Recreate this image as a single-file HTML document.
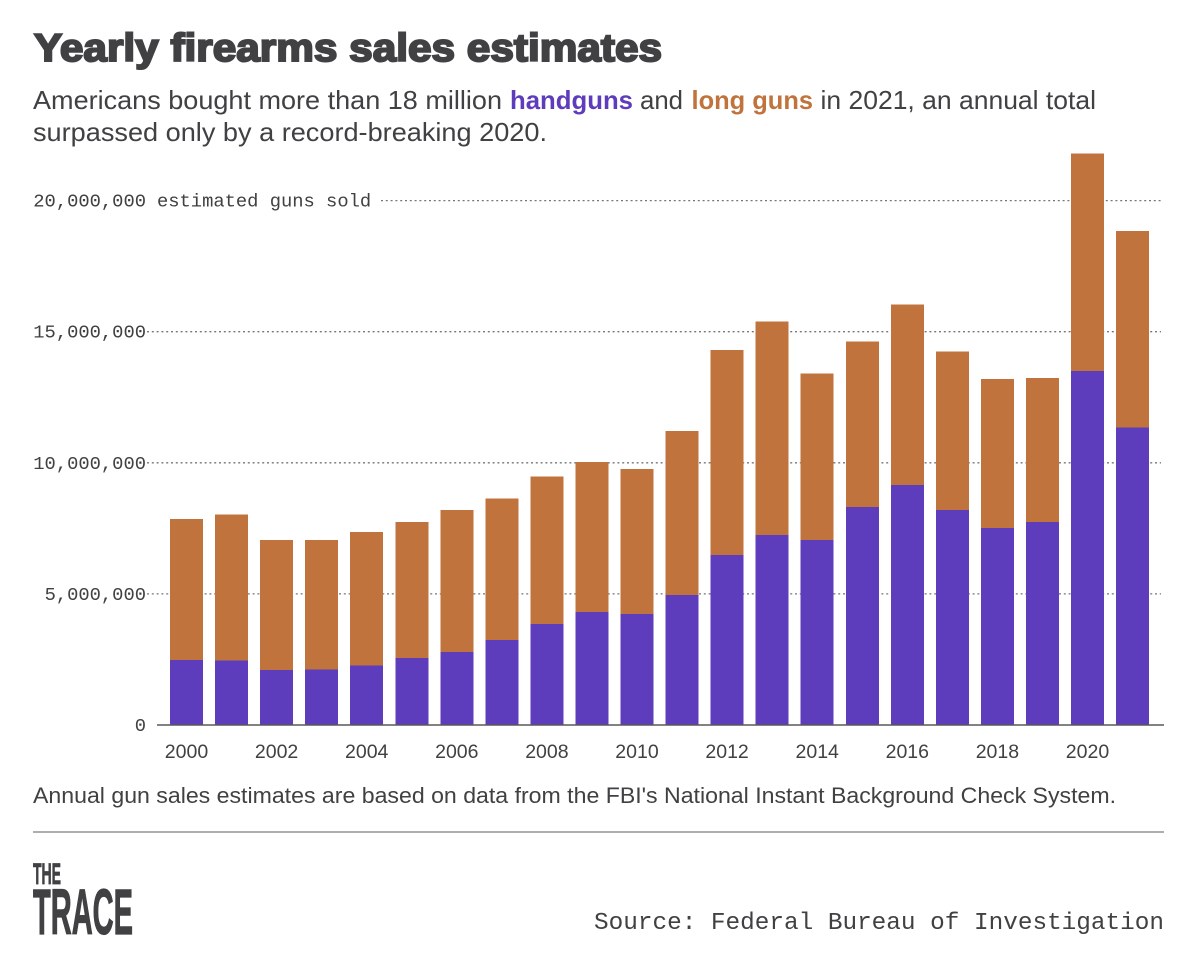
<!DOCTYPE html>
<html lang="en">
<head>
<meta charset="utf-8">
<title>Yearly firearms sales estimates</title>
<style>
html,body{margin:0;padding:0;background:#fff;width:1200px;height:963px;overflow:hidden}
svg{display:block}
.sans{font-family:"Liberation Sans",sans-serif}
.mono{font-family:"Liberation Mono",monospace}
</style>
</head>
<body>
<svg id="chart" width="1200" height="963" viewBox="0 0 1200 963" xmlns="http://www.w3.org/2000/svg">
  <rect width="1200" height="963" fill="#ffffff"/>
  <text class="sans" x="34" y="61" font-size="39" font-weight="700" fill="#414042" stroke="#414042" stroke-width="2" textLength="628" lengthAdjust="spacingAndGlyphs">Yearly firearms sales estimates</text>
  <g class="sans" font-size="26" fill="#414042">
    <text x="33" y="109" textLength="469" lengthAdjust="spacingAndGlyphs">Americans bought more than 18 million</text>
    <text x="510" y="109" font-weight="700" fill="#5e3dbd" textLength="123" lengthAdjust="spacingAndGlyphs">handguns</text>
    <text x="640" y="109" textLength="43" lengthAdjust="spacingAndGlyphs">and</text>
    <text x="691.5" y="109" font-weight="700" fill="#c0733d" textLength="121.5" lengthAdjust="spacingAndGlyphs">long guns</text>
    <text x="820.5" y="109" textLength="275.5" lengthAdjust="spacingAndGlyphs">in 2021, an annual total</text>
  </g>
  <text class="sans" x="33" y="141" font-size="26" fill="#414042" textLength="514" lengthAdjust="spacingAndGlyphs">surpassed only by a record-breaking 2020.</text>
  <g id="grid"></g>
  <g id="bars" shape-rendering="crispEdges"></g>
  <g id="yticks"></g>
  <g id="xticks"></g>
  <line id="baseline" x1="157" x2="1164" stroke="#58585a" stroke-width="1.5"/>
  <text class="sans" x="33" y="803" font-size="22.5" fill="#414042" textLength="1083" lengthAdjust="spacingAndGlyphs">Annual gun sales estimates are based on data from the FBI's National Instant Background Check System.</text>
  <line x1="33" x2="1164" y1="832" y2="832" stroke="#949496" stroke-width="1.5"/>
  <text class="sans" x="33" y="884" font-size="30" font-weight="700" fill="#414042" stroke="#414042" stroke-width="0.8" textLength="28" lengthAdjust="spacingAndGlyphs">THE</text>
  <text class="sans" x="33" y="934" font-size="64" font-weight="700" fill="#414042" stroke="#414042" stroke-width="1.2" textLength="100" lengthAdjust="spacingAndGlyphs">TRACE</text>
  <text class="mono" x="594" y="929" font-size="24.4" fill="#414042" textLength="570" lengthAdjust="spacingAndGlyphs">Source: Federal Bureau of Investigation</text>
</svg>
<script>
const years = [2000,2001,2002,2003,2004,2005,2006,2007,2008,2009,2010,2011,2012,2013,2014,2015,2016,2017,2018,2019,2020,2021];
const handguns = [2.48,2.46,2.10,2.12,2.27,2.56,2.79,3.24,3.85,4.31,4.24,4.96,6.49,7.25,7.06,8.32,9.16,8.20,7.52,7.75,13.51,11.34];
const longGuns = [5.38,5.56,4.96,4.94,5.10,5.19,5.41,5.39,5.62,5.73,5.53,6.26,7.82,8.13,6.34,6.30,6.87,6.04,5.68,5.49,8.29,7.51];
const yTicks = [0,5,10,15,20];
const yTickLabels = ['0','5,000,000','10,000,000','15,000,000','20,000,000'];
const xTickLabels = ['2000','2002','2004','2006','2008','2010','2012','2014','2016','2018','2020'];

const NS = 'http://www.w3.org/2000/svg';
const y0 = 725, pxPerMillion = 26.22;
const x0 = 186.5, step = 45.05, barWidth = 33;
const yScale = function (v) { return y0 - v * pxPerMillion; };
const xScale = function (year) { return x0 + (year - years[0]) * step; };

document.getElementById('baseline').setAttribute('y1', yScale(0));
document.getElementById('baseline').setAttribute('y2', yScale(0));

const grid = document.getElementById('grid');
const yticksGroup = document.getElementById('yticks');
yTicks.forEach(function (t, i) {
  if (t !== 0) {
    const line = document.createElementNS(NS, 'line');
    
    
    line.setAttribute('x1', t === 20 ? 381 : 147);
    line.setAttribute('x2', 1161);
    line.setAttribute('y1', yScale(t));
    line.setAttribute('y2', yScale(t));
    line.setAttribute('stroke', '#77777a');
    line.setAttribute('stroke-width', '1.3');
    line.setAttribute('stroke-dasharray', '2 2.8');
    grid.appendChild(line);
  }
  const label = document.createElementNS(NS, 'text');
  
  
  label.setAttribute('class', 'mono');
  label.setAttribute('x', 146);
  label.setAttribute('y', yScale(t) + 6);
  label.setAttribute('text-anchor', 'end');
  label.setAttribute('font-size', '18.8');
  label.setAttribute('fill', '#414042');
  label.textContent = yTickLabels[i];
  yticksGroup.appendChild(label);
});

const unitLabel = document.createElementNS(NS, 'text');


unitLabel.setAttribute('class', 'mono');
unitLabel.setAttribute('x', 157);
unitLabel.setAttribute('y', yScale(20) + 6);
unitLabel.setAttribute('font-size', '18.8');
unitLabel.setAttribute('fill', '#414042');
unitLabel.textContent = 'estimated guns sold';
yticksGroup.appendChild(unitLabel);

const barsGroup = document.getElementById('bars');
years.forEach(function (year, i) {
  const x = xScale(year) - barWidth / 2;
  const total = handguns[i] + longGuns[i];

  const lower = document.createElementNS(NS, 'rect');
  
  
  lower.setAttribute('x', x);
  lower.setAttribute('width', barWidth);
  lower.setAttribute('y', yScale(handguns[i]));
  lower.setAttribute('height', yScale(0) - yScale(handguns[i]));
  lower.setAttribute('fill', '#5e3dbd');
  barsGroup.appendChild(lower);

  const upper = document.createElementNS(NS, 'rect');
  
  
  upper.setAttribute('x', x);
  upper.setAttribute('width', barWidth);
  upper.setAttribute('y', yScale(total));
  upper.setAttribute('height', yScale(handguns[i]) - yScale(total));
  upper.setAttribute('fill', '#c0733d');
  barsGroup.appendChild(upper);
});

const xticksGroup = document.getElementById('xticks');
xTickLabels.forEach(function (label) {
  const t = document.createElementNS(NS, 'text');
  
  
  t.setAttribute('class', 'sans');
  t.setAttribute('x', xScale(Number(label)));
  t.setAttribute('y', 758);
  t.setAttribute('text-anchor', 'middle');
  t.setAttribute('font-size', '19.5');
  t.setAttribute('fill', '#414042');
  t.textContent = label;
  xticksGroup.appendChild(t);
});
</script>
</body>
</html>
